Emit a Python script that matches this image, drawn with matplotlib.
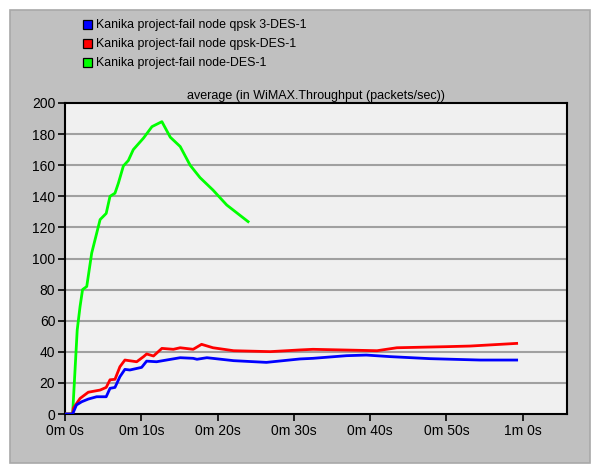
import matplotlib
matplotlib.use("Agg")
import matplotlib.pyplot as plt
from matplotlib.patches import Rectangle

plt.rcParams['font.family'] = ['Liberation Sans', 'DejaVu Sans']

# Time (seconds) and throughput (packets/sec) for each run
t_green = [0, 1.0, 1.6, 1.97, 2.3, 2.85, 3.5, 4.6, 5.4, 5.9, 6.55, 7.0, 7.65, 8.3,
           8.95, 10.3, 11.4, 12.7, 13.8, 15.1, 16.4, 17.7, 19.4, 21.2, 24.0]
v_green = [0, 0, 54, 69, 80, 82, 103.5, 125, 129, 140, 142, 148.5, 159.5, 163,
           170, 177.5, 184.8, 188, 178, 172, 160, 152, 144, 134.4, 123.7]

t_red = [0, 1.0, 1.1, 1.97, 3.05, 4.6, 5.4, 5.9, 6.55, 7.2, 7.85, 9.4, 10.3, 10.7,
         11.6, 12.7, 14.2, 15.1, 16.8, 17.9, 19.4, 22.1, 26.9, 30.8, 32.5, 40.9,
         43.5, 50.0, 53.1, 59.2]
v_red = [0, 0, 3.7, 10, 14, 15.4, 17.1, 22, 22.3, 30.4, 34.7, 33.6, 36.9, 38.6,
         37.3, 42.2, 41.6, 42.6, 41.6, 44.8, 42.6, 40.7, 40.1, 41.2, 41.6, 40.7,
         42.6, 43.3, 43.7, 45.4]

t_blue = [0, 1.0, 1.5, 2.2, 3.05, 4.15, 5.4, 5.9, 6.55, 7.2, 7.85, 8.5, 10.05,
          10.7, 12.0, 13.3, 15.1, 16.8, 17.3, 18.6, 22.1, 26.4, 30.8, 32.5, 36.9,
          39.5, 42.6, 47.8, 54.4, 59.2]
v_blue = [0, 0, 5.8, 7.9, 9.6, 11.1, 11.1, 16.5, 17.1, 24, 28.7, 28.3, 30,
          34, 33.6, 34.7, 36.2, 35.8, 35.2, 36.2, 34.3, 33.2, 35.4, 35.8, 37.5,
          37.9, 36.9, 35.6, 34.7, 34.7]

series_names = ["Kanika project-fail node qpsk 3-DES-1",
                "Kanika project-fail node qpsk-DES-1",
                "Kanika project-fail node-DES-1"]
series_colors = ["#0000ff", "#ff0000", "#00ff00"]

x_ticks = [0, 10, 20, 30, 40, 50, 60]
x_tick_labels = ["0m 0s", "0m 10s", "0m 20s", "0m 30s", "0m 40s", "0m 50s", "1m 0s"]
y_ticks = [0, 20, 40, 60, 80, 100, 120, 140, 160, 180, 200]

W, H = 595, 465
fig = plt.figure(figsize=(W / 100, H / 100), dpi=100, facecolor="white")

# gray panel behind everything
panel = Rectangle((10 / W, 2 / H), 580 / W, 453 / H, transform=fig.transFigure,
                  facecolor="#c0c0c0", edgecolor="#a8a8a8", linewidth=1.2, zorder=-5)
fig.patches.append(panel)

ax = fig.add_axes([65 / W, (H - 414) / H, (567 - 65) / W, (414 - 103) / H])
ax.set_zorder(2)
ax.set_facecolor("#f0f0f0")

for y in y_ticks[1:-1]:
    ax.axhline(y, color="#a0a0a0", linewidth=1.5, zorder=1)

ax.plot(t_green, v_green, color=series_colors[2], linewidth=2.0, zorder=3)
ax.plot(t_red, v_red, color=series_colors[1], linewidth=2.0, zorder=3)
ax.plot(t_blue, v_blue, color=series_colors[0], linewidth=2.0, zorder=4)

ax.set_xlim(0, 65.8)
ax.set_ylim(0, 200)
ax.set_xticks(x_ticks)
ax.set_xticklabels(x_tick_labels)
ax.set_yticks(y_ticks)
ax.tick_params(direction="out", length=5, width=1.2, labelsize=10, colors="black", pad=2)
for s in ax.spines.values():
    s.set_linewidth(1.5)
    s.set_color("black")

ax.set_title("average (in WiMAX.Throughput (packets/sec))", fontsize=9, pad=3)

# legend: colored squares with labels
rows_y = [25, 44, 63]
for name, col, yy in zip(series_names, series_colors, rows_y):
    fig.patches.append(Rectangle((83 / W, (H - yy - 4.5) / H), 9 / W, 9 / H,
                                 transform=fig.transFigure, facecolor=col,
                                 edgecolor="black", linewidth=0.9, zorder=2))
    fig.text(96 / W, (H - yy) / H, name, fontsize=8.9, va="center", ha="left")

fig.savefig("out.png", dpi=100, facecolor="white")
